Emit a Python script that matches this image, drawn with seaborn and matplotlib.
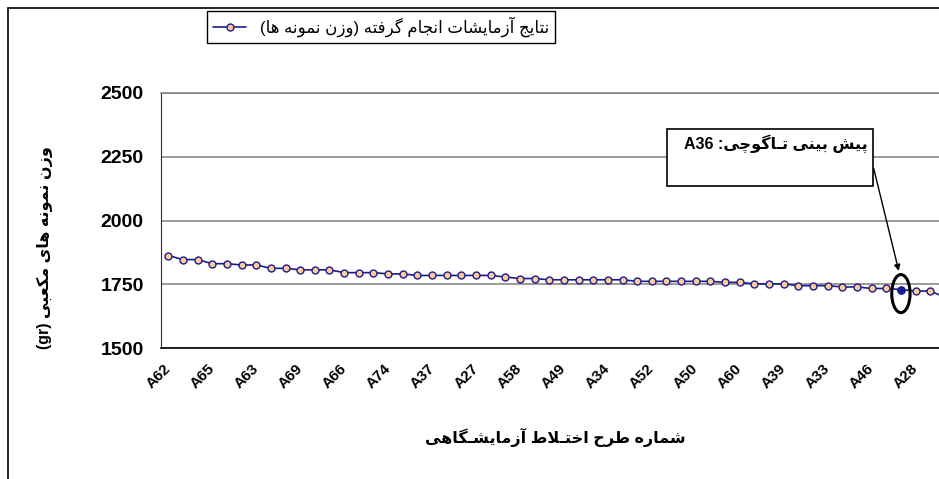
import re
import numpy as np
import pandas as pd
import matplotlib.pyplot as plt
import seaborn as sns
from matplotlib.patches import Ellipse, Rectangle
from matplotlib.lines import Line2D

# وزن نمونه ها (gr) به ترتیب محور افقی
weights = [1863, 1847, 1847, 1831, 1831, 1826, 1826, 1813, 1813, 1807,
           1807, 1807, 1796, 1796, 1796, 1791, 1791, 1785, 1785, 1785,
           1785, 1785, 1785, 1779, 1773, 1773, 1768, 1768, 1768, 1768,
           1768, 1768, 1762, 1762, 1762, 1762, 1762, 1762, 1758, 1758,
           1752, 1752, 1752, 1745, 1745, 1745, 1740, 1740, 1734, 1734,
           1730, 1724, 1724, 1700]

# فقط هر سه طرح یک برچسب نمایش داده شده
tick_labels = ['A62', 'A65', 'A63', 'A69', 'A66', 'A74', 'A37', 'A27', 'A58',
               'A49', 'A34', 'A52', 'A50', 'A60', 'A39', 'A33', 'A46', 'A28']
tick_step = 3
highlight_idx = 50   # A36

legend_text = 'نتایج آزمایشات انجام گرفته (وزن نمونه ها)'
note_text = 'پیش بینی تـاگوچی: A36'
xlabel_text = 'شماره طرح اختـلاط آزمایشـگاهی'
ylabel_text = 'وزن نمونه های مکعبی (gr)'

# matplotlib doesn't shape arabic script -> small reshaper + reverse
FORMS = {'ا': (0xFE8D, 2), 'آ': (0xFE81, 2), 'ب': (0xFE8F, 4), 'پ': (0xFB56, 4),
         'ت': (0xFE95, 4), 'ج': (0xFE9D, 4), 'چ': (0xFB7A, 4), 'ح': (0xFEA1, 4),
         'خ': (0xFEA5, 4), 'ر': (0xFEAD, 2), 'ز': (0xFEAF, 2), 'ش': (0xFEB5, 4),
         'ط': (0xFEC1, 4), 'ع': (0xFEC9, 4), 'ف': (0xFED1, 4), 'ک': (0xFB8E, 4),
         'گ': (0xFB92, 4), 'ل': (0xFEDD, 4), 'م': (0xFEE1, 4), 'ن': (0xFEE5, 4),
         'ه': (0xFEE9, 4), 'و': (0xFEED, 2), 'ی': (0xFBFC, 4),
         '\uFEFB': (0xFEFB, 2), '\uFEF5': (0xFEF5, 2)}


def shape(s):
    s = s.replace('لا', '\uFEFB').replace('لآ', '\uFEF5')

    def joins_next(c):
        return c == 'ـ' or (c in FORMS and FORMS[c][1] == 4)

    def is_letter(c):
        return c == 'ـ' or c in FORMS

    out = []
    for i, c in enumerate(s):
        if c not in FORMS:
            out.append(c)
            continue
        base, n = FORMS[c]
        prev = i > 0 and joins_next(s[i - 1])
        nxt = n == 4 and i + 1 < len(s) and is_letter(s[i + 1])
        k = 3 if (prev and nxt) else 1 if prev else 2 if nxt else 0
        out.append(chr(base + k))
    return ''.join(out)


def rtl(s):
    runs = re.findall(r'[A-Za-z0-9]+|[^A-Za-z0-9]+', shape(s))
    mirror = str.maketrans('()', ')(')
    out = []
    for r in reversed(runs):
        if re.match(r'[A-Za-z0-9]', r):
            out.append(r)
        else:
            out.append(r[::-1].translate(mirror))
    return ''.join(out)


sns.set_style('white')
plt.rcParams['font.family'] = ['Liberation Sans', 'DejaVu Sans']
plt.rcParams['text.color'] = 'black'
plt.rcParams['xtick.color'] = 'black'
plt.rcParams['ytick.color'] = 'black'

navy = '#1C1C8C'
df = pd.DataFrame({'pos': np.arange(len(weights)), 'weight': weights})

fig = plt.figure(figsize=(9.39, 4.79), dpi=100)
ax = fig.add_axes([161 / 939, 1 - 348.3 / 479, (939 - 161) / 939, (348.3 - 92.7) / 479])

sns.lineplot(data=df, x='pos', y='weight', ax=ax, color=navy, lw=1.2,
             marker='o', markersize=5, markerfacecolor='#FFCC99',
             markeredgecolor=navy, markeredgewidth=1, label=rtl(legend_text))
ax.plot(df['pos'][highlight_idx], df['weight'][highlight_idx], 'o', ms=5,
        color=navy, zorder=5)

ax.set_yticks(range(1500, 2501, 250))
ax.set_yticklabels([str(v) for v in range(1500, 2501, 250)], fontweight='bold', fontsize=14)
ax.yaxis.grid(True, color='#808080', lw=1.1)
ax.set_axisbelow(True)

label_pos = np.arange(len(tick_labels)) * tick_step
ax.set_xticks(label_pos)
ax.set_xticklabels(tick_labels, rotation=45, ha='right', va='center',
                   rotation_mode='anchor', fontweight='bold', fontsize=11)
ax.set_xticks(np.arange(-0.5, len(weights), 1), minor=True)
ax.tick_params(axis='x', which='major', length=0, pad=13)
ax.tick_params(axis='x', which='minor', length=5, width=1, direction='out', color='k')
ax.tick_params(axis='y', direction='inout', length=9, width=1, pad=8, color='#404040')
ax.set_xlabel('')
ax.set_ylabel('')
# limits after ticks, the chart is cut at the right edge
ax.set_xlim(-0.5, 52.6)
ax.set_ylim(1500, 2500)

ax.spines['right'].set_visible(False)
ax.spines['top'].set_color('#808080')
ax.spines['top'].set_linewidth(1.1)
ax.spines['left'].set_color('#303030')
ax.spines['bottom'].set_color('black')
ax.spines['bottom'].set_linewidth(1.2)

leg = ax.legend(loc='upper left', bbox_to_anchor=(207 / 939, 1 - 11 / 479),
                bbox_transform=fig.transFigure, frameon=True, fancybox=False,
                edgecolor='black', framealpha=1, fontsize=12, handlelength=2,
                borderpad=0.35, borderaxespad=0)
leg.get_frame().set_linewidth(1)

# callout for the taguchi prediction
ax.add_patch(Rectangle((34.06, 2136), 14.04, 223, facecolor='white',
                       edgecolor='black', lw=1.2, zorder=6))
ax.text(47.7, 2302, rtl(note_text), ha='right', va='center',
        fontweight='bold', fontsize=11.5, zorder=7)
ax.annotate('', xy=(49.9, 1792), xytext=(48.1, 2214),
            arrowprops=dict(arrowstyle='-|>', color='black', lw=1, mutation_scale=9),
            zorder=7)
ax.add_patch(Ellipse((highlight_idx, 1714), 1.25, 149, fill=False,
                     edgecolor='black', lw=2.2, zorder=6))

fig.text(45 / 939, 1 - 248 / 479, rtl(ylabel_text), rotation=90, ha='center',
         va='center', fontweight='bold', fontsize=11.5)
fig.text(555 / 939, 1 - 437 / 479, rtl(xlabel_text), ha='center', va='center',
         fontweight='bold', fontsize=11.5)

# outer chart frame
fig.add_artist(Line2D([8 / 939, 1], [1 - 8 / 479] * 2, color='black', lw=1.2))
fig.add_artist(Line2D([8 / 939] * 2, [0, 1 - 8 / 479], color='black', lw=1.2))

fig.savefig('out.png', dpi=100)
